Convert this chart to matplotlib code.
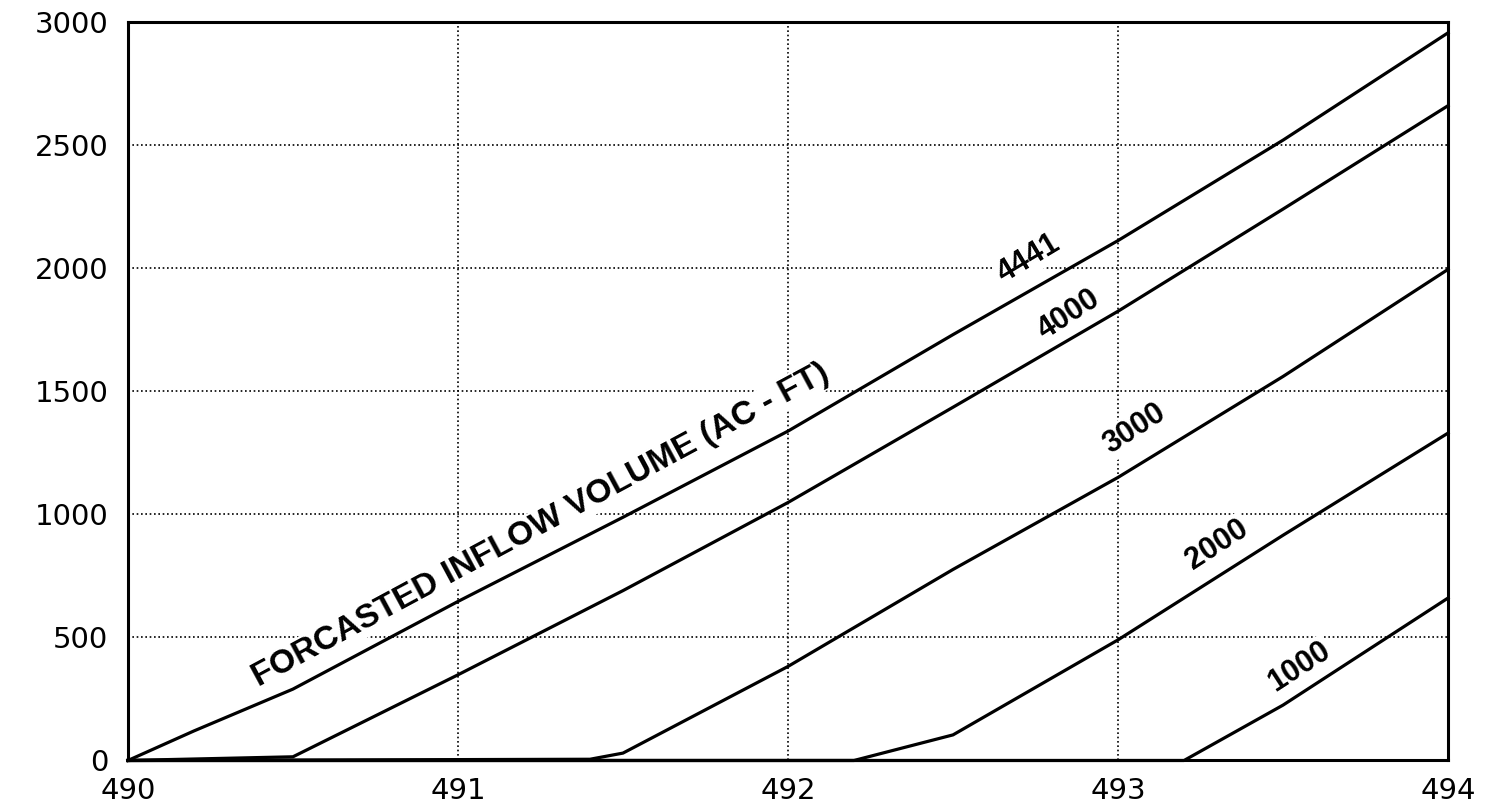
import matplotlib
matplotlib.use("Agg")
import matplotlib.pyplot as plt

# reservoir elevation (ft) vs. required release for each forecast inflow volume
elev_4441 = [490.0, 490.2, 490.5, 491.0, 491.5, 492.0, 492.5, 493.0, 493.5, 494.0]
flow_4441 = [0, 120, 290, 646, 988, 1338, 1730, 2112, 2520, 2956]

elev_4000 = [490.0, 490.5, 491.0, 491.5, 492.0, 492.5, 493.0, 493.5, 494.0]
flow_4000 = [0, 15, 348, 690, 1048, 1435, 1825, 2240, 2660]

elev_3000 = [490.0, 491.4, 491.5, 492.0, 492.5, 493.0, 493.5, 494.0]
flow_3000 = [0, 5, 30, 382, 776, 1150, 1560, 1995]

elev_2000 = [490.0, 492.2, 492.5, 493.0, 493.5, 494.0]
flow_2000 = [0, 0, 104, 490, 915, 1330]

elev_1000 = [490.0, 493.2, 493.5, 494.0]
flow_1000 = [0, 0, 225, 660]

curve_labels = ["4441", "4000", "3000", "2000", "1000"]
label_x = [492.73, 492.85, 493.05, 493.30, 493.55]
label_y = [2040, 1810, 1346, 878, 381]
label_rot = [31, 33, 33, 33, 33]

x_ticks = [490, 491, 492, 493, 494]
y_ticks = [0, 500, 1000, 1500, 2000, 2500, 3000]

fig = plt.figure(figsize=(14.91, 8.05), dpi=100)
ax = fig.add_axes([0.0858, 0.0553, 0.8854, 0.9174])

curves = [(elev_4441, flow_4441), (elev_4000, flow_4000), (elev_3000, flow_3000),
          (elev_2000, flow_2000), (elev_1000, flow_1000)]
for xs, ys in curves:
    ax.plot(xs, ys, color="black", linewidth=2.3, zorder=3, clip_on=False)

ax.set_xlim(490, 494)
ax.set_ylim(0, 3000)
ax.set_xticks(x_ticks)
ax.set_yticks(y_ticks)
ax.set_xticklabels([str(t) for t in x_ticks])
ax.set_yticklabels([str(t) for t in y_ticks])
ax.tick_params(length=0, labelsize=21, colors="black")
ax.tick_params(axis="x", pad=12)
ax.tick_params(axis="y", pad=14)

ax.set_axisbelow(True)
ax.grid(True, color="black", linestyle=(0, (1, 1.6)), linewidth=1.2)
for spine in ax.spines.values():
    spine.set_linewidth(2.2)
    spine.set_color("black")

box = dict(facecolor="white", edgecolor="none", pad=1.0)
for txt, lx, ly, rot in zip(curve_labels, label_x, label_y, label_rot):
    ax.text(lx, ly, txt, rotation=rot, rotation_mode="anchor", ha="center", va="center",
            fontsize=22, fontweight="bold", family="Liberation Sans", bbox=box, zorder=2.5)

ax.text(491.25, 955, "FORCASTED INFLOW VOLUME (AC - FT)", rotation=28.3,
        rotation_mode="anchor", ha="center", va="center", fontsize=24,
        fontweight="bold", family="Liberation Sans", bbox=box, zorder=2.5)

fig.savefig("out.png", dpi=100)
